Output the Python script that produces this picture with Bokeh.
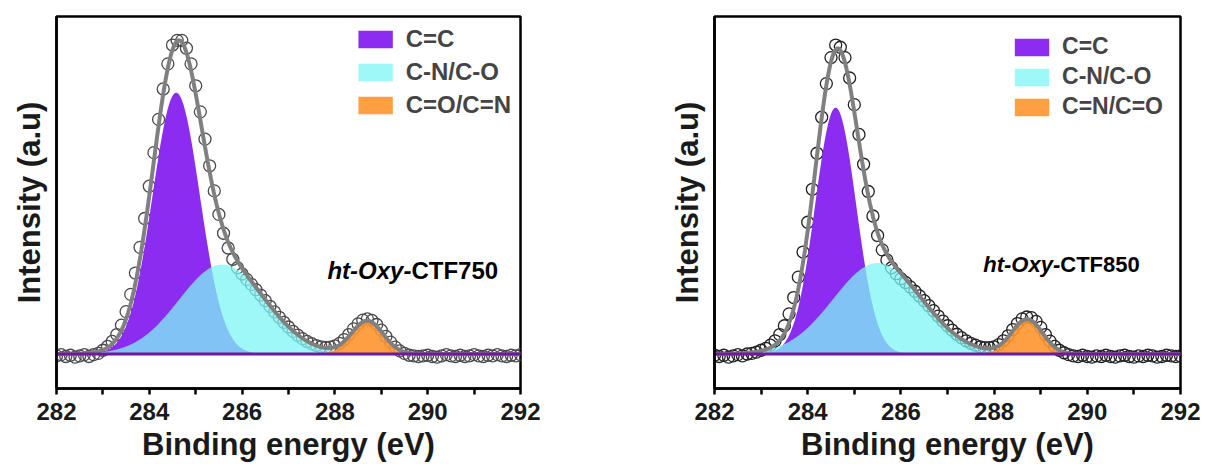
import numpy as np
from bokeh.plotting import figure
from bokeh.layouts import row
from bokeh.models import FixedTicker, Legend, LegendItem, Range1d
from bokeh.core.properties import value
from bokeh.embed import file_html
from bokeh.resources import INLINE

# ---------------- data ----------------
# binding-energy grid of the measured spectra (eV, 0.1 eV step)
energy = np.round(np.arange(282.0, 292.05, 0.1), 1)

# measured C 1s intensity (normalised, background subtracted)
intensity_750 = [
    -0.006, -0.002, -0.008, -0.004, -0.010, -0.006, -0.002, -0.008, -0.002, 0.002,
    0.012, 0.024, 0.040, 0.062, 0.092, 0.135, 0.190, 0.258, 0.340, 0.432,
    0.535, 0.642, 0.748, 0.845, 0.925, 0.985, 1.000, 1.000, 0.975, 0.925,
    0.855, 0.772, 0.685, 0.600, 0.520, 0.445, 0.385, 0.338, 0.302, 0.275,
    0.255, 0.238, 0.222, 0.205, 0.188, 0.170, 0.152, 0.134, 0.117, 0.101,
    0.086, 0.072, 0.060, 0.049, 0.040, 0.033, 0.027, 0.023, 0.021, 0.022,
    0.026, 0.034, 0.046, 0.062, 0.080, 0.096, 0.108, 0.112, 0.107, 0.094,
    0.076, 0.056, 0.038, 0.022, 0.010, 0.002, -0.004, -0.006, -0.008, -0.006,
    -0.004, -0.008, -0.010, -0.006, -0.002, -0.006, -0.008, -0.004, -0.008, -0.006,
    -0.002, -0.006, -0.008, -0.004, -0.006, -0.002, -0.006, -0.008, -0.004, -0.006, -0.002,
]
intensity_850 = [
    -0.004, -0.008, -0.004, -0.010, -0.006, -0.002, -0.006, 0.000, 0.002, 0.006,
    0.012, 0.018, 0.028, 0.042, 0.062, 0.090, 0.128, 0.180, 0.245, 0.325,
    0.420, 0.525, 0.640, 0.755, 0.862, 0.945, 0.985, 0.978, 0.945, 0.880,
    0.795, 0.700, 0.605, 0.518, 0.440, 0.378, 0.332, 0.300, 0.275, 0.256,
    0.240, 0.228, 0.214, 0.200, 0.185, 0.170, 0.154, 0.138, 0.121, 0.105,
    0.090, 0.076, 0.063, 0.052, 0.042, 0.034, 0.028, 0.023, 0.020, 0.020,
    0.023, 0.030, 0.042, 0.058, 0.078, 0.097, 0.112, 0.118, 0.116, 0.104,
    0.085, 0.062, 0.041, 0.024, 0.012, 0.004, -0.002, -0.006, -0.008, -0.004,
    -0.008, -0.010, -0.006, -0.008, -0.004, -0.008, -0.010, -0.006, -0.004, -0.008,
    -0.010, -0.006, -0.008, -0.004, -0.006, -0.010, -0.008, -0.004, -0.006, -0.008, -0.006,
]

# fitted components (Gaussian): centre (eV), height, sigma (eV)
names_750 = ["C=C", "C-N/C-O", "C=O/C=N"]
centers_750 = [284.58, 285.57, 288.70]
heights_750 = [0.833, 0.285, 0.105]
sigmas_750 = [0.51, 0.93, 0.34]

names_850 = ["C=C", "C-N/C-O", "C=N/C=O"]
centers_850 = [284.60, 285.50, 288.71]
heights_850 = [0.785, 0.290, 0.110]
sigmas_850 = [0.44, 0.95, 0.33]

baseline_level = 0.0
x_ticks = [282, 284, 286, 288, 290, 292]
x_minor_ticks = [283, 285, 287, 289, 291]

FILL_COLORS = ["#8c2cf0", "#7ef6f6", "#ff9530"]
FILL_ALPHAS = [1.0, 0.75, 0.9]
FONT = "Liberation Sans"


def gauss(x, c, h, s):
    return h * np.exp(-((x - c) ** 2) / (2.0 * s * s))


def make_panel(intensity, names, centers, heights, sigmas, sample,
               label_joint, label_y, label_size, legend_margin, legend_padding,
               legend_font, legend_spacing, width, border_left, border_right, point_color):
    p = figure(width=width, height=464,
               x_range=Range1d(282, 292), y_range=Range1d(-0.110, 1.076),
               output_backend="svg", toolbar_location=None,
               min_border_left=border_left, min_border_right=border_right,
               min_border_top=16, min_border_bottom=72)
    p.grid.visible = False
    p.outline_line_color = "black"
    p.outline_line_width = 2.5
    p.outline_line_alpha = 1.0

    xs = np.linspace(282, 292, 1001)

    # measured points
    p.scatter(energy, intensity, size=12, marker="circle", fill_color=None,
              line_color=point_color, line_width=1.3)

    renderers = []
    total = np.zeros_like(xs)
    for c, h, s, col, a in zip(centers, heights, sigmas, FILL_COLORS, FILL_ALPHAS):
        comp = gauss(xs, c, h, s)
        total = total + comp
        r = p.varea(x=xs, y1=baseline_level, y2=baseline_level + comp,
                    fill_color=col, fill_alpha=a)
        renderers.append(r)

    # envelope (sum of components)
    p.line(xs, baseline_level + total, line_color="#808080", line_width=4)
    # background line
    p.line([282, 292], [baseline_level, baseline_level], line_color="#6e1a9c", line_width=3)

    # sample label
    p.text(x=[label_joint], y=[label_y], text=["ht-Oxy-"], text_align="right",
           text_baseline="middle", text_font=value(FONT), text_font_style="bold italic",
           text_font_size=label_size, text_color="black")
    p.text(x=[label_joint], y=[label_y], text=[sample], text_align="left",
           text_baseline="middle", text_font=value(FONT), text_font_style="bold",
           text_font_size=label_size, text_color="black")

    legend = Legend(items=[LegendItem(label=n, renderers=[r]) for n, r in zip(names, renderers)],
                    location="top_right", margin=legend_margin, padding=legend_padding,
                    spacing=legend_spacing, glyph_width=43, glyph_height=22, label_height=22,
                    label_standoff=9, label_text_font=FONT, label_text_font_size=legend_font,
                    label_text_font_style="bold", background_fill_alpha=0,
                    border_line_alpha=0)
    p.add_layout(legend)

    # x axis
    xa = p.xaxis[0]
    xa.ticker = FixedTicker(ticks=x_ticks, minor_ticks=x_minor_ticks)
    xa.axis_line_width = 2.5
    xa.major_tick_line_width = 2.5
    xa.minor_tick_line_width = 2.5
    xa.major_tick_out = 6
    xa.major_tick_in = 0
    xa.minor_tick_out = 6
    xa.minor_tick_in = 0
    xa.major_label_text_font = FONT
    xa.major_label_text_font_style = "bold"
    xa.major_label_text_font_size = "24px"
    xa.major_label_text_color = "#1a1a1a"
    xa.major_label_standoff = 8
    xa.axis_label = "Binding energy (eV)"
    xa.axis_label_text_font = FONT
    xa.axis_label_text_font_style = "bold"
    xa.axis_label_text_font_size = "31px"
    xa.axis_label_text_color = "#1a1a1a"
    xa.axis_label_standoff = 4

    ya = p.yaxis[0]
    ya.ticker = FixedTicker(ticks=[])
    ya.axis_line_width = 2.5
    ya.major_tick_out = 0
    ya.major_tick_in = 0
    ya.minor_tick_out = 0
    ya.minor_tick_in = 0
    ya.major_label_text_font_size = "0px"
    ya.axis_label = "Intensity (a.u)"
    ya.axis_label_text_font = FONT
    ya.axis_label_text_font_style = "bold"
    ya.axis_label_text_font_size = "31px"
    ya.axis_label_text_color = "#1a1a1a"
    ya.axis_label_standoff = 10
    return p


p1 = make_panel(intensity_750, names_750, centers_750, heights_750, sigmas_750,
                "CTF750", 289.65, 0.265, "24px", 0, 9, "24px", 5, 600, 56, 80, "#4a4a4a")
p2 = make_panel(intensity_850, names_850, centers_850, heights_850, sigmas_850,
                "CTF850", 289.42, 0.284, "22px", 7, 10, "23px", 3, 605, 114, 25, "#222222")

layout = row(p1, p2)
open("out.html", "w").write(file_html(layout, INLINE))
